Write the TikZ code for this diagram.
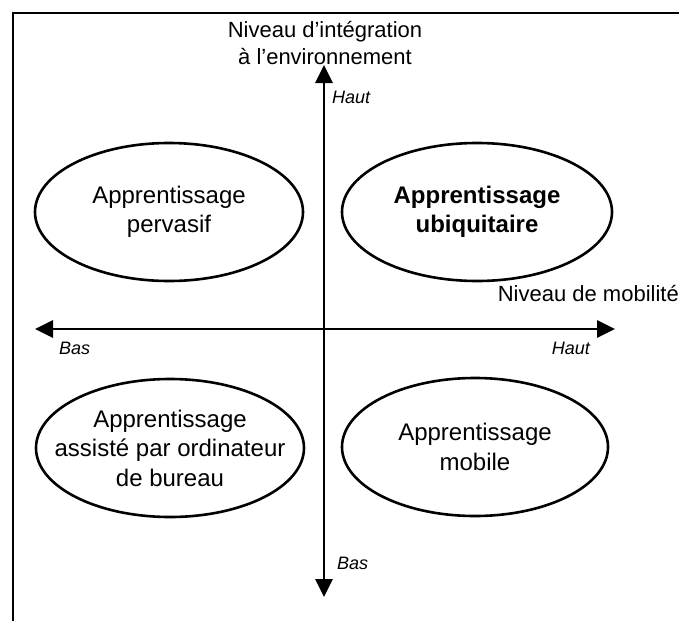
\documentclass[tikz,border=0pt]{standalone}
\usepackage{fontspec}
\setmainfont{Liberation Sans}
\usetikzlibrary{arrows.meta,shapes.geometric}
\tikzset{
  quad/.style={draw, line width=2.6pt, ellipse, inner sep=0pt, minimum height=138pt},
  quadtext/.style={align=center, inner sep=0pt, font=\fontsize{24}{29.5}\selectfont},
  axisline/.style={line width=2.8pt, {Triangle[length=18pt,width=17pt]}-{Triangle[length=18pt,width=17pt]}},
  tag/.style={inner sep=0pt, font=\fontsize{18}{20}\selectfont\itshape},
  axlabel/.style={inner sep=0pt, align=center, font=\fontsize{22}{27}\selectfont},
  frame/.style={line width=2pt}
}
\begin{document}
\begin{tikzpicture}[x=1pt,y=-1pt]
\useasboundingbox (0,0) rectangle (679,621);
\draw[frame] (13,621) -- (13,13) -- (679,13);

\coordinate (top) at (324,65);
\coordinate (bot) at (324,597);
\coordinate (left) at (35,329);
\coordinate (right) at (615,329);

\draw[axisline] (bot) -- (top);
\draw[axisline] (left) -- (right);

\node[quad, minimum width=268pt] (tl) at (169,212) {};
\node[quad, minimum width=270pt] (tr) at (477,212) {};
\node[quad, minimum width=268pt] (bl) at (170,448) {};
\node[quad, minimum width=266pt] (br) at (475,447) {};

\node[quadtext] (tlt) at (tl.center) {Apprentissage\\pervasif};
\node[quadtext, font=\fontsize{24}{29.5}\selectfont\bfseries] (trt) at (tr.center) {Apprentissage\\ubiquitaire};
\node[quadtext] (blt) at (bl.center) {Apprentissage\\assisté par ordinateur\\de bureau};
\node[quadtext] (brt) at (br.center) {Apprentissage\\mobile};

\node[axlabel] (ylab) at (325,43) {Niveau d'intégration\\à l'environnement};
\node[axlabel, anchor=base east] (xlab) at (679,301) {Niveau de mobilité};

\node[tag, anchor=base west] (yhaut) at (332,103) {Haut};
\node[tag, anchor=base west] (ybas) at (337,569) {Bas};
\node[tag, anchor=base west] (xbas) at (59,354) {Bas};
\node[tag, anchor=base east] (xhaut) at (590,354) {Haut};
\end{tikzpicture}
\end{document}
